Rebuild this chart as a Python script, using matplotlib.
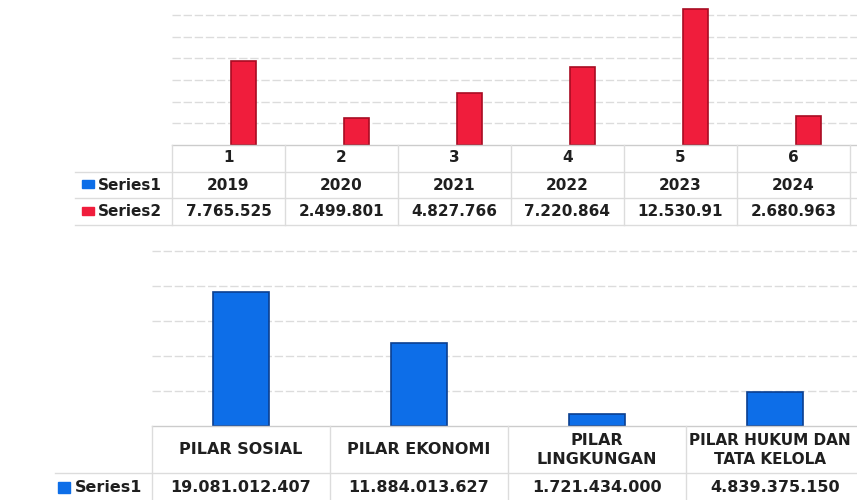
import matplotlib.pyplot as plt
from matplotlib.patches import Rectangle

# top chart: yearly totals
top_index = ["1", "2", "3", "4", "5", "6"]
top_years = ["2019", "2020", "2021", "2022", "2023", "2024"]
top_values = [7765525, 2499801, 4827766, 7220864, 12530910, 2680963]
top_value_labels = ["7.765.525", "2.499.801", "4.827.766", "7.220.864", "12.530.91", "2.680.963"]

# bottom chart: totals per pillar
pillars = ["PILAR SOSIAL", "PILAR EKONOMI", "PILAR\nLINGKUNGAN", "PILAR HUKUM DAN\nTATA KELOLA"]
pillar_values = [19081012407, 11884013627, 1721434000, 4839375150]

W, H = 857, 500
RED, RED_EDGE = "#f01d3c", "#a80c22"
BLUE, BLUE_EDGE = "#0d6ee8", "#0b3f90"
GRID = "#dcdcdc"
TXT = "#1f1f1f"
plt.rcParams['font.family'] = ['DejaVu Sans']


def box(x0, y0, x1, y1):
    # pixel box (top-left origin) -> figure fraction rect
    return [x0 / W, 1 - y1 / H, (x1 - x0) / W, (y1 - y0) / H]


def fmt_id(v):
    return f"{v:,}".replace(",", ".")


fig = plt.figure(figsize=(W / 100, H / 100), dpi=100)

# overlay for the data tables, in pixel coordinates
ov = fig.add_axes([0, 0, 1, 1], zorder=3)
ov.set_xlim(0, W)
ov.set_ylim(H, 0)
ov.axis("off")
ov.patch.set_alpha(0)

# ---- top chart ----
ax1 = fig.add_axes(box(172, 0, 857, 145))
ax1.bar(range(len(top_values)), [v / 1e6 for v in top_values], width=0.22,
        color=RED, edgecolor=RED_EDGE, linewidth=1.2, zorder=2)
ax1.set_xlim(-0.63, 5.43)
ax1.set_ylim(0, 145 / 10.85)
ax1.set_yticks([2, 4, 6, 8, 10, 12])
ax1.grid(axis="y", color=GRID, linewidth=1, linestyle=(0, (6, 2)))
ax1.tick_params(left=False, bottom=False, labelleft=False, labelbottom=False)
for s in ax1.spines.values():
    s.set_visible(False)

col_w = 113
x_lines = [172 + col_w * i for i in range(7)]
ov.plot([172, 857], [145, 145], color="#cccccc", lw=1)
for y in (172, 198, 225):
    ov.plot([75, 857], [y, y], color=GRID, lw=1)
for x in x_lines:
    ov.plot([x, x], [145, 225], color=GRID, lw=1)
for i in range(len(top_index)):
    cx = 172 + col_w * (i + 0.5)
    ov.text(cx, 158, top_index[i], ha="center", va="center", fontsize=11, fontweight="bold", color=TXT)
    ov.text(cx, 185, top_years[i], ha="center", va="center", fontsize=11, fontweight="bold", color=TXT)
    ov.text(cx, 211, top_value_labels[i], ha="center", va="center", fontsize=11, fontweight="bold", color=TXT)
ov.add_patch(Rectangle((82, 180), 12, 8, color=BLUE))
ov.text(98, 185, "Series1", ha="left", va="center", fontsize=11, fontweight="bold", color=TXT)
ov.add_patch(Rectangle((82, 207), 12, 8, color=RED))
ov.text(98, 211, "Series2", ha="left", va="center", fontsize=11, fontweight="bold", color=TXT)

# ---- bottom chart ----
ax2 = fig.add_axes(box(152, 230, 864, 426))
ax2.bar(range(len(pillar_values)), [v / 1e9 for v in pillar_values], width=0.31,
        color=BLUE, edgecolor=BLUE_EDGE, linewidth=1.2, zorder=2)
ax2.set_xlim(-0.5, 3.5)
ax2.set_ylim(0, 196 / 7.02)
ax2.set_yticks([5, 10, 15, 20, 25])
ax2.grid(axis="y", color=GRID, linewidth=1, linestyle=(0, (6, 2)))
ax2.tick_params(left=False, bottom=False, labelleft=False, labelbottom=False)
for s in ax2.spines.values():
    s.set_visible(False)

col_w2 = 178
ov.plot([152, 857], [426, 426], color="#cccccc", lw=1)
ov.plot([55, 857], [473, 473], color=GRID, lw=1)
for i in range(5):
    x = 152 + col_w2 * i
    ov.plot([x, x], [426, 500], color=GRID, lw=1)
for i, name in enumerate(pillars):
    cx = 152 + col_w2 * (i + 0.5)
    size = 11.5
    if i == len(pillars) - 1:
        # last column runs into the right edge; keep its header inside
        cx, size = cx - 5, 11
    ov.text(cx, 450, name, ha="center", va="center", fontsize=size, fontweight="bold",
            color=TXT, linespacing=1.35)
    ov.text(152 + col_w2 * (i + 0.5), 488, fmt_id(pillar_values[i]), ha="center", va="center",
            fontsize=11.5, fontweight="bold", color=TXT)
ov.add_patch(Rectangle((58, 482), 12, 11, color=BLUE))
ov.text(75, 488, "Series1", ha="left", va="center", fontsize=11.5, fontweight="bold", color=TXT)

fig.savefig("out.png", dpi=100)
